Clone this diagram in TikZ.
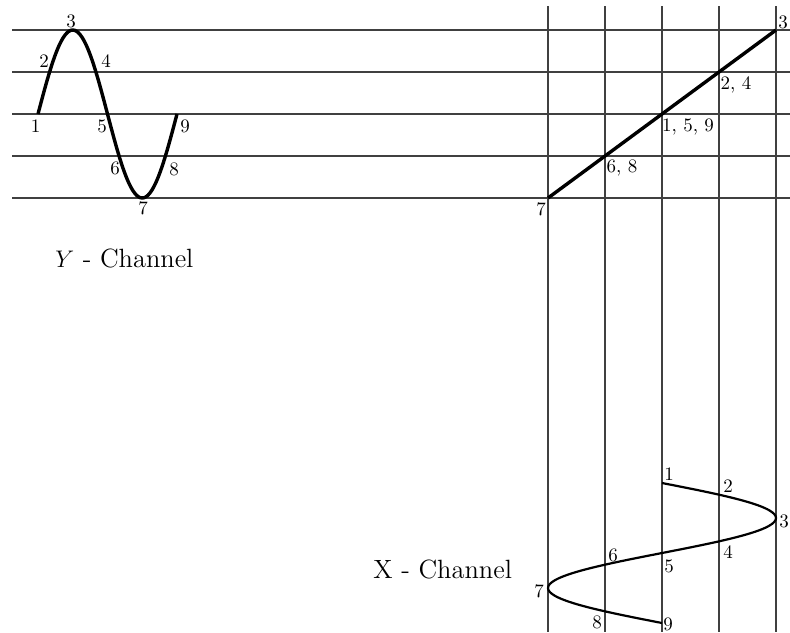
\documentclass[tikz,border=0pt]{standalone}
\begin{document}
\begin{tikzpicture}[x=0.5pt,y=-0.5pt,
  gridline/.style={draw=black!75,line width=0.6pt},
  wave/.style={draw=black,line width=1.7pt,line join=round},
  thinwave/.style={draw=black,line width=1.1pt,line join=round},
  lbl/.style={inner sep=0pt,font=\fontsize{9.5}{11}\selectfont},
  chan/.style={inner sep=0pt,anchor=base west,font=\fontsize{13.2}{15}\selectfont}]
\useasboundingbox (0,0) rectangle (790,632);
% horizontal grid
\foreach \yy [count=\i] in {30,72,114,156,198}{
  \coordinate (hl\i) at (12,\yy);
  \coordinate (hr\i) at (790,\yy);
  \draw[gridline] (hl\i) -- (hr\i);
}
% vertical grid
\foreach \xx [count=\i] in {548,605,662,719,776}{
  \coordinate (vt\i) at (\xx,6);
  \coordinate (vb\i) at (\xx,632);
  \draw[gridline] (vt\i) -- (vb\i);
}
% Y channel sine
\draw[wave] plot[smooth,samples=73,domain=0:360,variable=\t]
  ({38+0.386111*\t},{114-84*sin(\t)});
% X channel sine
\draw[thinwave] plot[smooth,samples=73,domain=0:360,variable=\t]
  ({662+114*sin(\t)},{483+0.388889*\t});
% diagonal
\coordinate (d7) at (548,198);
\coordinate (d3) at (776,30);
\draw[wave] (d7) -- (d3);
% Y labels
\node[lbl] (y1) at (35.5,126) {1};
\node[lbl] (y2) at (44,61) {2};
\node[lbl] (y3) at (71,21) {3};
\node[lbl] (y4) at (106,61) {4};
\node[lbl] (y5) at (102,126) {5};
\node[lbl] (y6) at (115,168) {6};
\node[lbl] (y7) at (143,208) {7};
\node[lbl] (y8) at (174,169) {8};
\node[lbl] (y9) at (185,126) {9};
% diagonal labels
\node[lbl] (t3) at (783,22) {3};
\node[lbl] (t24) at (736,85) {2, 4};
\node[lbl] (t159) at (688,127) {1, 5, 9};
\node[lbl] (t68) at (622,168) {6, 8};
\node[lbl] (t7) at (541,209) {7};
% X labels
\node[lbl] (x1) at (669,474) {1};
\node[lbl] (x2) at (728,486) {2};
\node[lbl] (x3) at (784,521) {3};
\node[lbl] (x4) at (728,552) {4};
\node[lbl] (x5) at (669,566) {5};
\node[lbl] (x6) at (613,555) {6};
\node[lbl] (x7) at (539,591) {7};
\node[lbl] (x8) at (597,622) {8};
\node[lbl] (x9) at (668,624) {9};
% channel titles
\node[chan] (ych) at (55,267) {$Y$ - Channel};
\node[chan] (xch) at (373,578) {X - Channel};
\end{tikzpicture}
\end{document}
